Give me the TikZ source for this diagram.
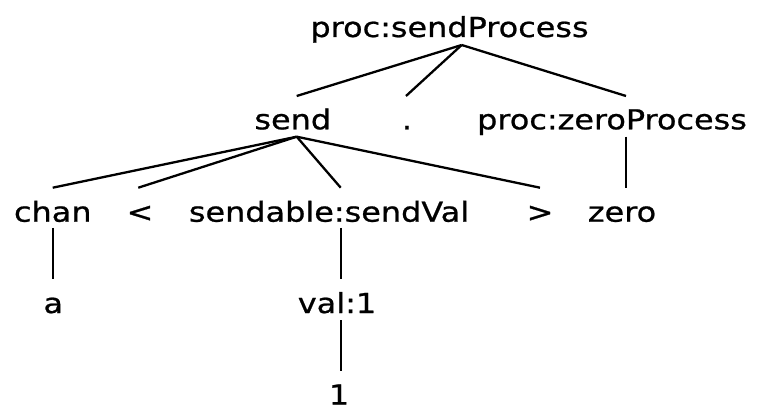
\documentclass[tikz,border=0pt]{standalone}
\usepackage{fontspec}
\setmainfont{DejaVu Sans}[FakeStretch=1.16,FakeBold=0.8]
\begin{document}
\begin{tikzpicture}[x=1pt,y=1pt,
  lbl/.style={inner sep=0pt, anchor=base, font=\fontsize{27.5}{33}\selectfont},
  edge/.style={line width=2.3pt}]
\path[use as bounding box] (0,0) rectangle (757,410);
% labels
\node[lbl] (root) at (449.5,373) {proc:sendProcess};
\node[lbl] (send) at (292.8,280.7) {send};
\node[lbl] (dot) at (407,280.7) {.};
\node[lbl] (zp) at (612,280.7) {proc:zeroProcess};
\node[lbl] (chan) at (52.8,188.3) {chan};
\node[lbl] (lt) at (140,188.3) {<};
\node[lbl] (sv) at (329,188.3) {sendable:sendVal};
\node[lbl] (gt) at (540,188.3) {>};
\node[lbl] (zero) at (622,188.3) {zero};
\node[lbl] (a) at (53.3,97) {a};
\node[lbl] (val) at (337,97) {val:1};
\node[lbl] (one) at (339,5.5) {1};
% connector end points
\coordinate (rootB) at (461.7,365);
\coordinate (sendT) at (296.7,314);
\coordinate (dotT) at (406,314);
\coordinate (zpT) at (626,314);
\coordinate (sendB) at (296.7,273.3);
\coordinate (zpB) at (626,273.3);
\coordinate (chanT) at (52.7,222.3);
\coordinate (ltT) at (138.3,222.3);
\coordinate (svT) at (340.7,222.3);
\coordinate (gtT) at (540,222.3);
\coordinate (zeroT) at (626,222.3);
\coordinate (chanB) at (52.7,182);
\coordinate (svB) at (340.7,182);
\coordinate (aT) at (52.7,130.7);
\coordinate (valT) at (340.7,130.7);
\coordinate (valB) at (340.7,90);
\coordinate (oneT) at (340.7,39.3);
% connectors
\draw[edge] (rootB) -- (sendT);
\draw[edge] (rootB) -- (dotT);
\draw[edge] (rootB) -- (zpT);
\draw[edge] (sendB) -- (chanT);
\draw[edge] (sendB) -- (ltT);
\draw[edge] (sendB) -- (svT);
\draw[edge] (sendB) -- (gtT);
\draw[edge] (zpB) -- (zeroT);
\draw[edge] (chanB) -- (aT);
\draw[edge] (svB) -- (valT);
\draw[edge] (valB) -- (oneT);
\end{tikzpicture}
\end{document}
